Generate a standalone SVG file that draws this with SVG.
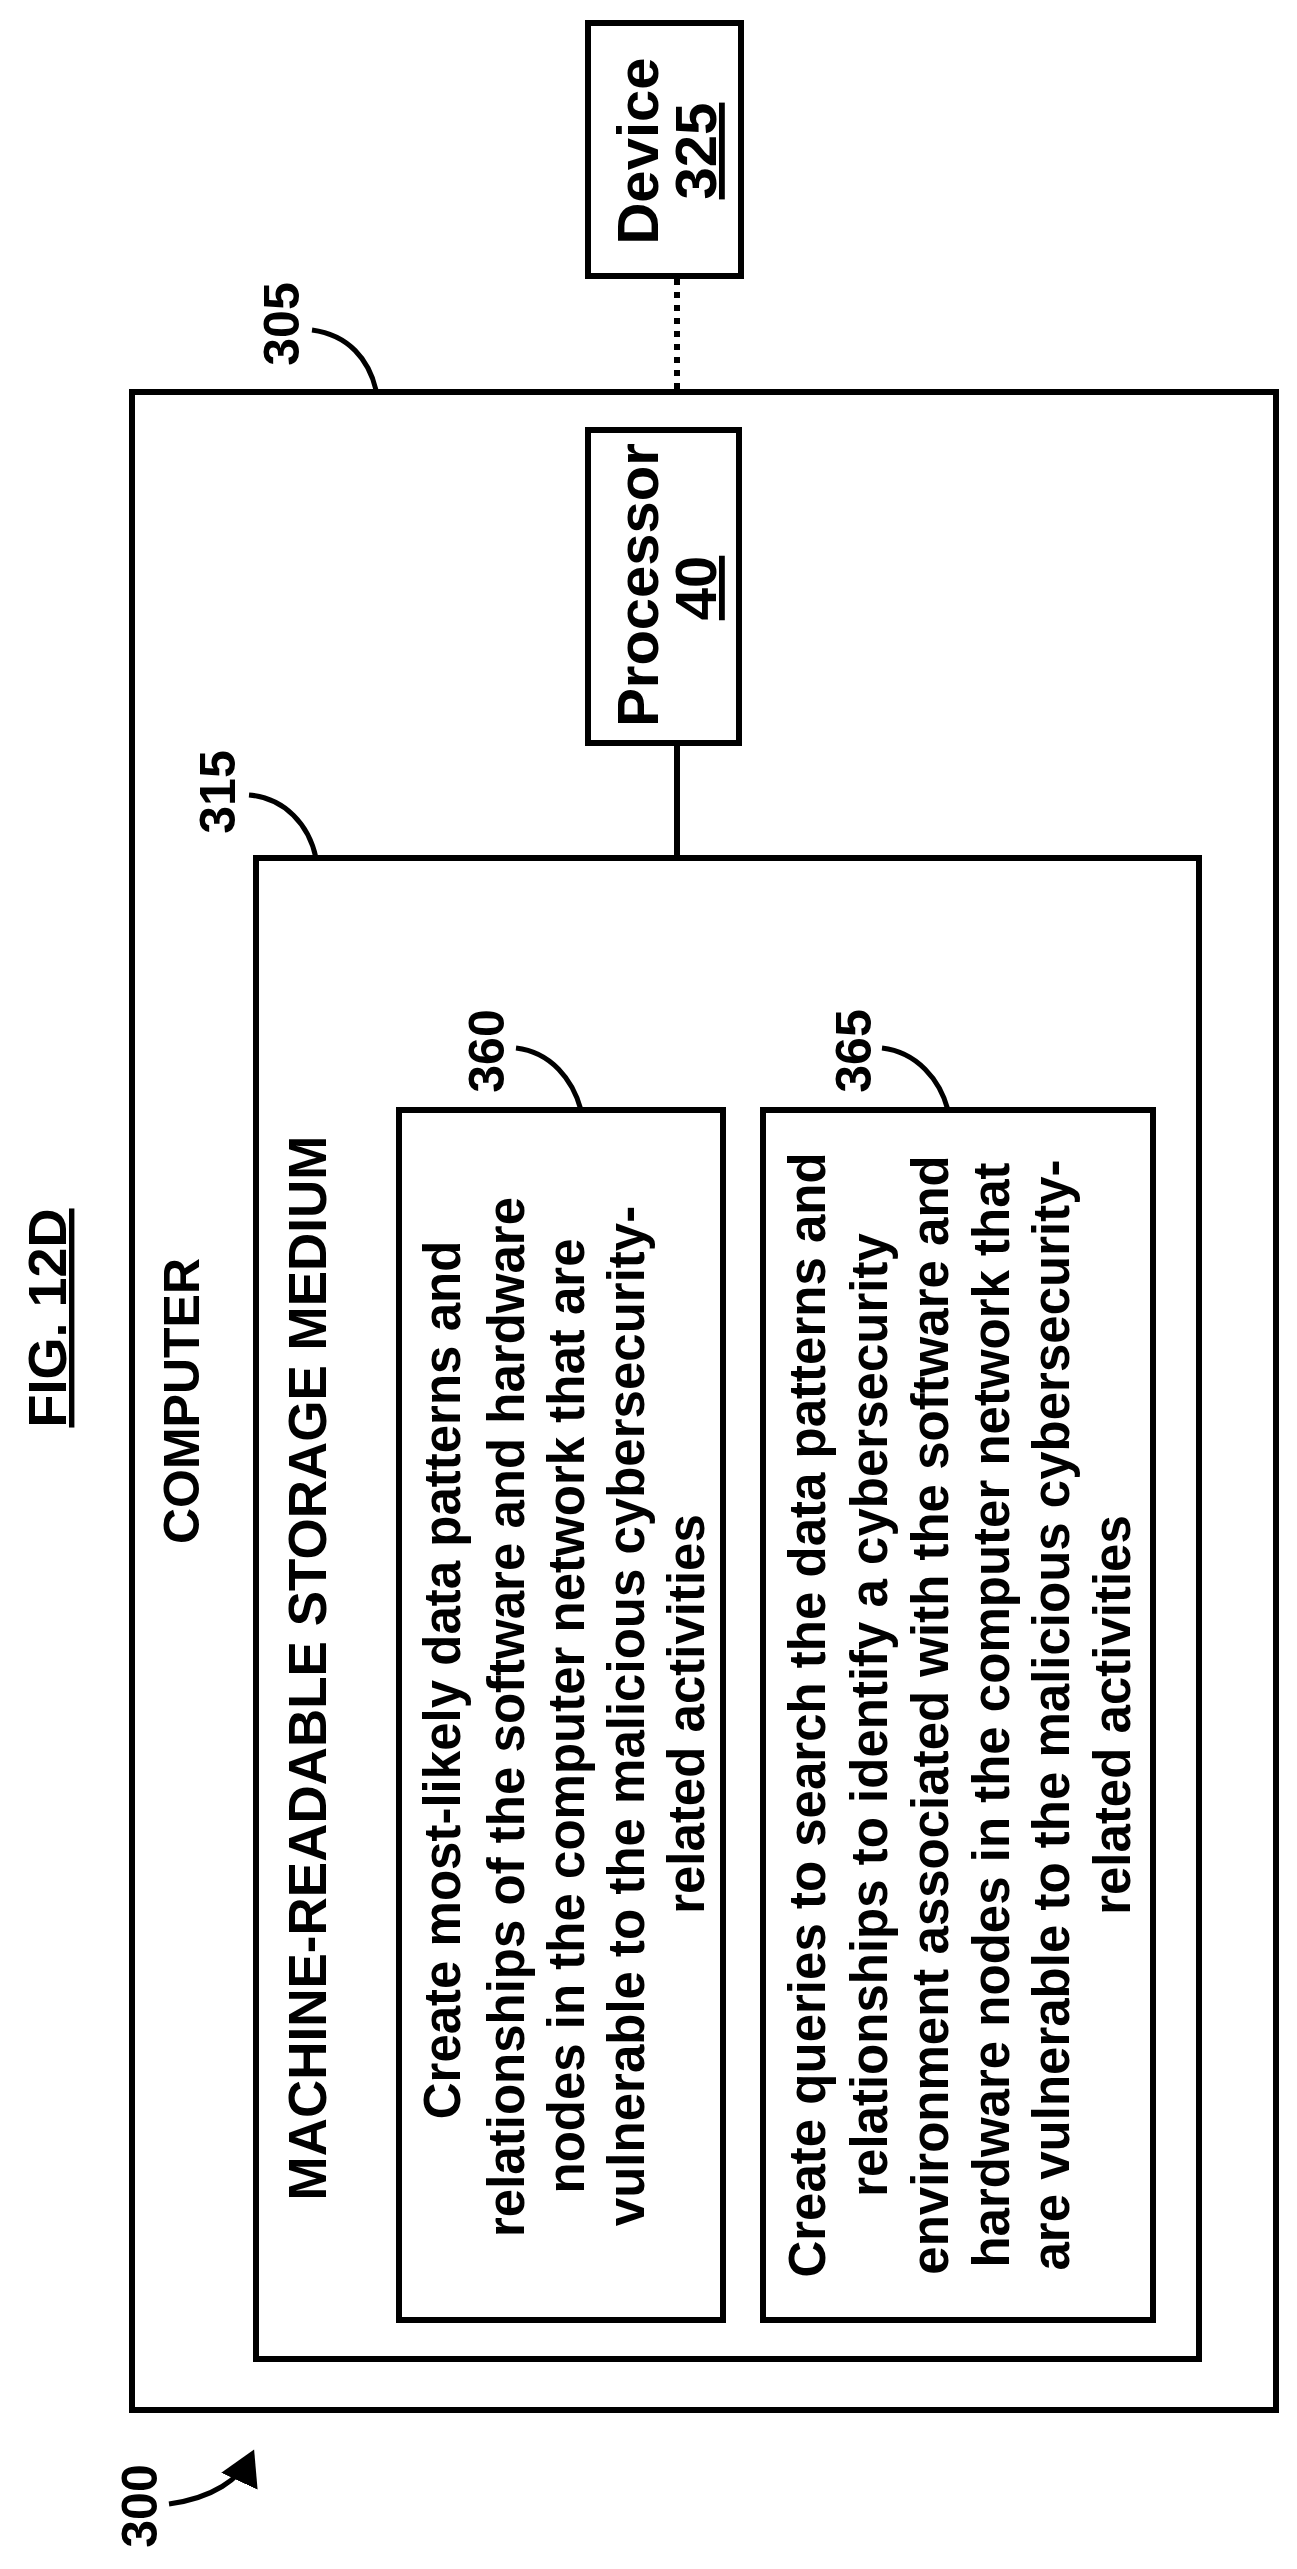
<svg xmlns="http://www.w3.org/2000/svg" width="1297" height="2569" viewBox="0 0 1297 2569">
<defs>
<style>
.b{fill:none;stroke:#000;stroke-width:6}
.l{fill:none;stroke:#000;stroke-width:5}
text{font-family:"Liberation Sans",Arial,sans-serif;font-weight:bold;fill:#000;text-anchor:middle}
.t{font-size:51px}
.n{font-size:50px}
.k{font-size:58px}
</style>
<marker id="ah" markerWidth="8" markerHeight="8" refX="6" refY="4" orient="auto" markerUnits="strokeWidth"><path d="M0,0 L7,4 L0,8 Z" fill="#000"/></marker>
</defs>
<rect width="1297" height="2569" fill="#fff"/>
<text font-size="54" transform="translate(66,1318) rotate(-90)" text-decoration="underline">FIG. 12D</text>
<g id="n305">
<rect class="b" x="132" y="392" width="1144" height="2018"/>
<text font-size="50" transform="translate(199,1401) rotate(-90)">COMPUTER</text>
<text class="n" transform="translate(299,324) rotate(-90)">305</text>
</g>
<g id="n325">
<rect class="b" x="588" y="23" width="153" height="253"/>
<text class="k" transform="translate(658,151) rotate(-90)">Device</text>
<text class="k" transform="translate(716,151) rotate(-90)" text-decoration="underline">325</text>
</g>
<g id="n40">
<rect class="b" x="588" y="430" width="151" height="313"/>
<text class="k" transform="translate(658,585) rotate(-90)">Processor</text>
<text class="k" transform="translate(716,588) rotate(-90)" text-decoration="underline">40</text>
</g>
<g id="n315">
<rect class="b" x="256" y="858" width="943" height="1501"/>
<text font-size="53" transform="translate(326,1668) rotate(-90)">MACHINE-READABLE STORAGE MEDIUM</text>
<text class="n" transform="translate(235,792) rotate(-90)">315</text>
</g>
<g id="n360">
<rect class="b" x="399" y="1110" width="324" height="1210"/>
<text class="n" transform="translate(504,1051) rotate(-90)">360</text>
<text class="t" transform="translate(460,1680) rotate(-90)">Create most-likely data patterns and</text>
<text class="t" transform="translate(524,1717) rotate(-90)">relationships of the software and hardware</text>
<text class="t" transform="translate(584,1716) rotate(-90)">nodes in the computer network that are</text>
<text class="t" transform="translate(644,1716) rotate(-90)">vulnerable to the malicious cybersecurity-</text>
<text class="t" transform="translate(704,1714) rotate(-90)">related activities</text>
</g>
<g id="n365">
<rect class="b" x="763" y="1110" width="390" height="1210"/>
<text class="n" transform="translate(871,1051) rotate(-90)">365</text>
<text class="t" transform="translate(825,1715) rotate(-90)">Create queries to search the data patterns and</text>
<text class="t" transform="translate(887,1715) rotate(-90)">relationships to identify a cybersecurity</text>
<text class="t" transform="translate(948,1715) rotate(-90)">environment associated with the software and</text>
<text class="t" transform="translate(1009,1715) rotate(-90)">hardware nodes in the computer network that</text>
<text class="t" transform="translate(1069,1715) rotate(-90)">are vulnerable to the malicious cybersecurity-</text>
<text class="t" transform="translate(1130,1715) rotate(-90)">related activities</text>
</g>
<g id="n300">
<text class="n" transform="translate(157,2506) rotate(-90)">300</text>
</g>
<g id="connectors">
<line x1="677" y1="279" x2="677" y2="389" stroke="#000" stroke-width="6" stroke-dasharray="6,7"/>
<line class="b" x1="677" y1="743" x2="677" y2="858"/>
<path class="l" d="M312,330 C349,335 369,360 376,390"/>
<path class="l" d="M249,795 C285,798 309,825 316,858"/>
<path class="l" d="M516,1048 C551,1052 573,1080 581,1110"/>
<path class="l" d="M882,1048 C917,1052 940,1080 948,1110"/>
<path class="l" d="M169,2504 C212,2498 240,2480 252,2454" marker-end="url(#ah)"/>
</g>
</svg>
